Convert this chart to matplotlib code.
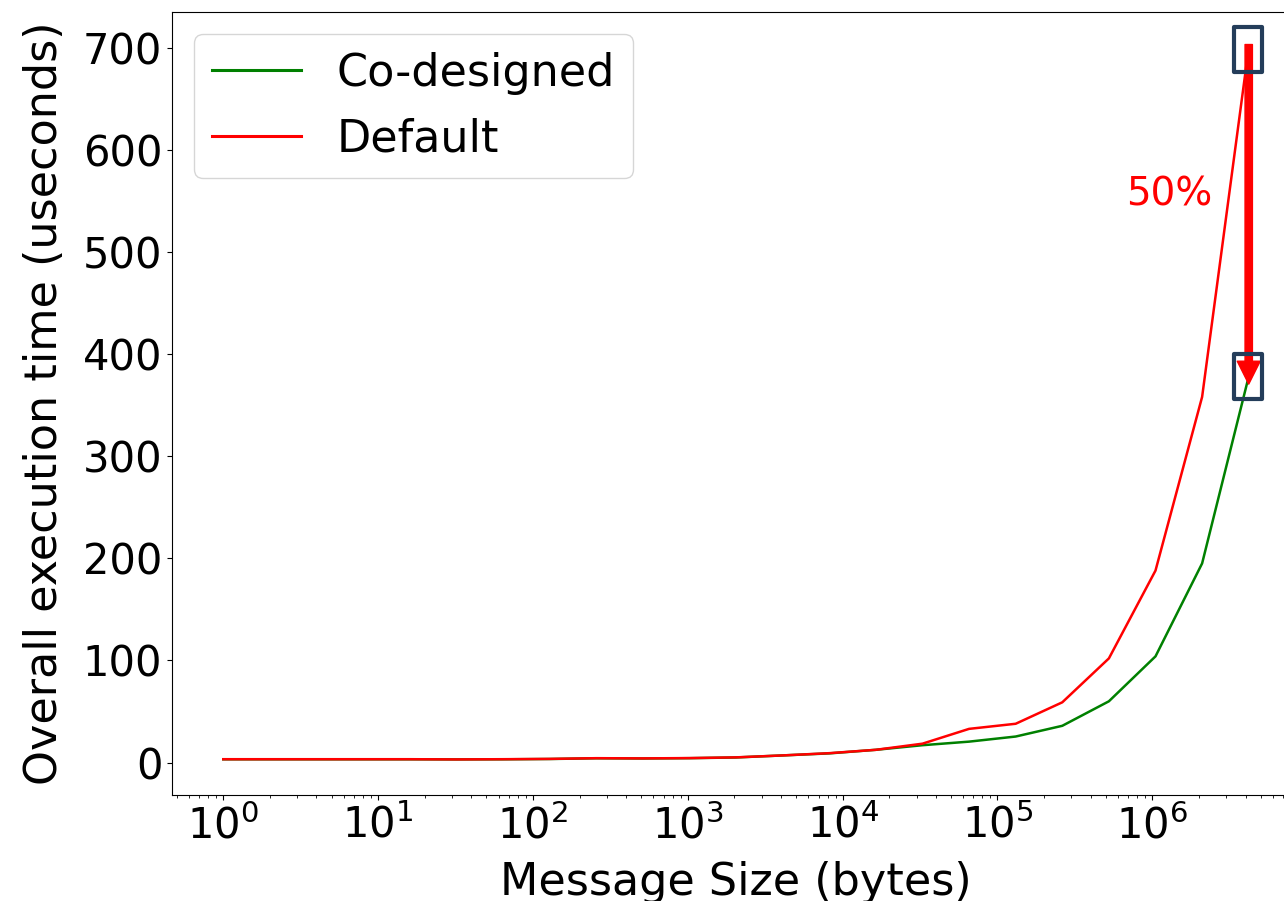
import matplotlib
matplotlib.use("Agg")
import matplotlib.pyplot as plt
from matplotlib.patches import Rectangle

# Data
exponents = list(range(23))
msg_sizes = [2 ** k for k in exponents]
codesigned = [3.2, 3.2, 3.2, 3.2, 3.2, 3.1, 3.2, 3.5, 4.2, 4.0, 4.3, 5.0, 7.0, 9.0,
              12.5, 17.0, 20.5, 25.5, 36.0, 60.0, 104.0, 195.0, 378.0]
default = [3.3, 3.3, 3.3, 3.3, 3.3, 3.1, 3.3, 3.6, 4.3, 4.1, 4.4, 5.1, 7.0, 9.2,
           12.5, 18.5, 33.0, 38.0, 59.0, 102.0, 188.0, 358.0, 700.0]
series_labels = ["Co-designed", "Default"]
annot_text = "50%"

FS = 30
LFS = 32
fig = plt.figure(figsize=(12.84, 9.01), dpi=100)
ax = fig.add_axes([172 / 1284, 106 / 901, (1300 - 172) / 1284, (795 - 12) / 901])

ax.plot(msg_sizes, codesigned, color="green", lw=1.8, label=series_labels[0])
ax.plot(msg_sizes, default, color="red", lw=1.8, label=series_labels[1])
ax.set_xscale("log")

ax.set_xlabel("Message Size (bytes)", fontsize=LFS, labelpad=10)
ax.set_ylabel("Overall execution time (useconds)", fontsize=LFS, labelpad=12)
ax.tick_params(axis="both", labelsize=FS)
ax.set_yticks([0, 100, 200, 300, 400, 500, 600, 700])

leg = ax.legend(loc="upper left", fontsize=LFS)
for h in leg.get_lines():
    h.set_linewidth(2.2)

xmax = msg_sizes[-1]
ax.annotate("", xy=(xmax, 370.5), xytext=(xmax, 703),
            arrowprops=dict(facecolor="red", edgecolor="red", width=5.3,
                            headwidth=16.5, headlength=16.5, shrink=0))
ax.text(1.29e6, 556, annot_text, color="red", fontsize=28, ha="center", va="center")

box_color = "#243d5a"
for (y0, y1) in [(676, 720), (356, 400)]:
    ax.add_patch(Rectangle((3.37e6, y0), 5.09e6 - 3.37e6, y1 - y0, fill=False,
                           edgecolor=box_color, lw=3, joinstyle="round", zorder=5))

fig.savefig("out.png", dpi=100)
